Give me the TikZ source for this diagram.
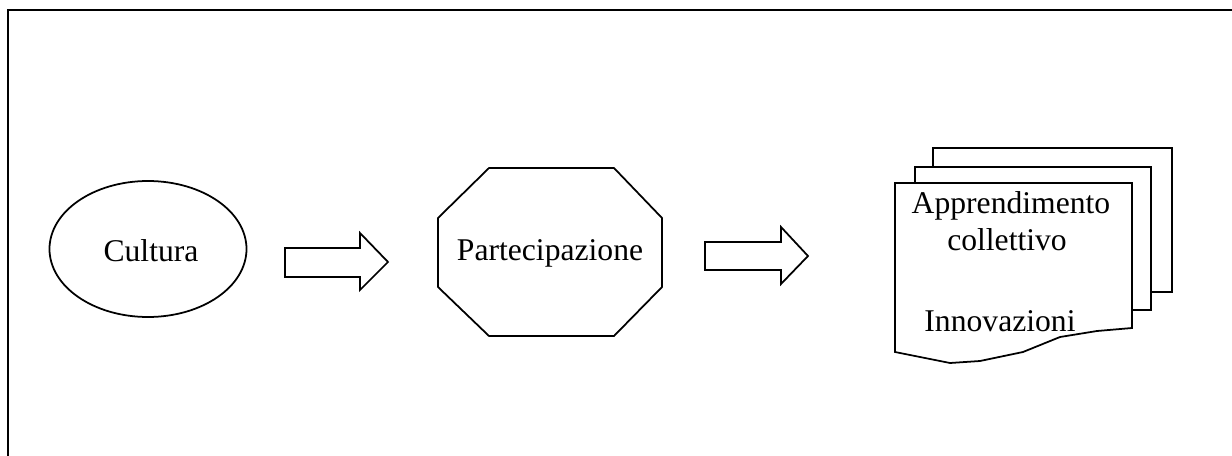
\documentclass[tikz,border=0pt]{standalone}
\usepackage{fontspec}
\setmainfont{Liberation Serif}
\usepackage{tikz}
\usetikzlibrary{shapes.geometric}
\tikzstyle{none}=[inner sep=0pt]
\tikzstyle{label}=[inner sep=0pt,font=\fontsize{18}{21}\selectfont]
\tikzstyle{outline}=[draw=black,line width=1.0,line join=miter]
\tikzstyle{oval}=[outline,ellipse,minimum width=3.94cm,minimum height=2.72cm]
\tikzstyle{frame}=[draw=black,line width=1.2]

\begin{document}
\begin{tikzpicture}
 \useasboundingbox (0, 0) rectangle (24.64, -9.12);
 \clip (0, 0) rectangle (24.64, -9.12);
 \node [style=none] (0) at (0.16, -0.2) {};
 \node [style=none] (1) at (25, -9.6) {};
 \draw [style=frame] (0.center) rectangle (1.center);
 % culture oval
 \node [style=oval] (2) at (2.96, -4.98) {};
 \node [style=label] (3) at (3.02, -5.02) {Cultura};
 % first block arrow
 \node [style=none] (4) at (5.7, -4.96) {};
 \node [style=none] (5) at (7.2, -4.96) {};
 \node [style=none] (6) at (7.2, -4.66) {};
 \node [style=none] (7) at (7.76, -5.24) {};
 \node [style=none] (8) at (7.2, -5.8) {};
 \node [style=none] (9) at (7.2, -5.54) {};
 \node [style=none] (10) at (5.7, -5.54) {};
 \draw [style=outline] (4.center) to (5.center) to (6.center) to (7.center)
  to (8.center) to (9.center) to (10.center) -- cycle;
 % octagon
 \node [style=none] (11) at (9.78, -3.36) {};
 \node [style=none] (12) at (12.28, -3.36) {};
 \node [style=none] (13) at (13.24, -4.36) {};
 \node [style=none] (14) at (13.24, -5.74) {};
 \node [style=none] (15) at (12.28, -6.72) {};
 \node [style=none] (16) at (9.78, -6.72) {};
 \node [style=none] (17) at (8.76, -5.74) {};
 \node [style=none] (18) at (8.76, -4.36) {};
 \node [style=label] (19) at (11.0, -5.06) {Partecipazione};
 \draw [style=outline] (11.center) to (12.center) to (13.center) to (14.center)
  to (15.center) to (16.center) to (17.center) to (18.center) -- cycle;
 % second block arrow
 \node [style=none] (20) at (14.1, -4.84) {};
 \node [style=none] (21) at (15.62, -4.84) {};
 \node [style=none] (22) at (15.62, -4.54) {};
 \node [style=none] (23) at (16.16, -5.12) {};
 \node [style=none] (24) at (15.62, -5.68) {};
 \node [style=none] (25) at (15.62, -5.4) {};
 \node [style=none] (26) at (14.1, -5.4) {};
 \draw [style=outline] (20.center) to (21.center) to (22.center) to (23.center)
  to (24.center) to (25.center) to (26.center) -- cycle;
 % stacked documents, back to front
 \node [style=none] (27) at (18.66, -3.34) {};
 \node [style=none] (28) at (18.66, -2.96) {};
 \node [style=none] (29) at (23.44, -2.96) {};
 \node [style=none] (30) at (23.44, -5.84) {};
 \node [style=none] (31) at (23.02, -5.84) {};
 \draw [style=outline] (27.center) to (28.center) to (29.center) to (30.center) to (31.center);
 \node [style=none] (32) at (18.3, -3.66) {};
 \node [style=none] (33) at (18.3, -3.34) {};
 \node [style=none] (34) at (23.02, -3.34) {};
 \node [style=none] (35) at (23.02, -6.2) {};
 \node [style=none] (36) at (22.64, -6.2) {};
 \draw [style=outline] (32.center) to (33.center) to (34.center) to (35.center) to (36.center);
 \node [style=none] (37) at (17.9, -3.66) {};
 \node [style=none] (38) at (22.64, -3.66) {};
 \node [style=none] (39) at (22.64, -6.56) {};
 \node [style=none] (40) at (21.94, -6.62) {};
 \node [style=none] (41) at (21.2, -6.74) {};
 \node [style=none] (42) at (20.46, -7.04) {};
 \node [style=none] (43) at (19.6, -7.22) {};
 \node [style=none] (44) at (19.0, -7.26) {};
 \node [style=none] (45) at (17.9, -7.04) {};
 \draw [style=outline] (37.center) to (38.center) to (39.center) to (40.center)
  to (41.center) to (42.center) to (43.center) to (44.center) to (45.center) -- cycle;
 \node [style=label] (46) at (20.22, -4.12) {Apprendimento};
 \node [style=label] (47) at (20.14, -4.8) {collettivo};
 \node [style=label] (48) at (20.0, -6.42) {Innovazioni};
\end{tikzpicture}
\end{document}
